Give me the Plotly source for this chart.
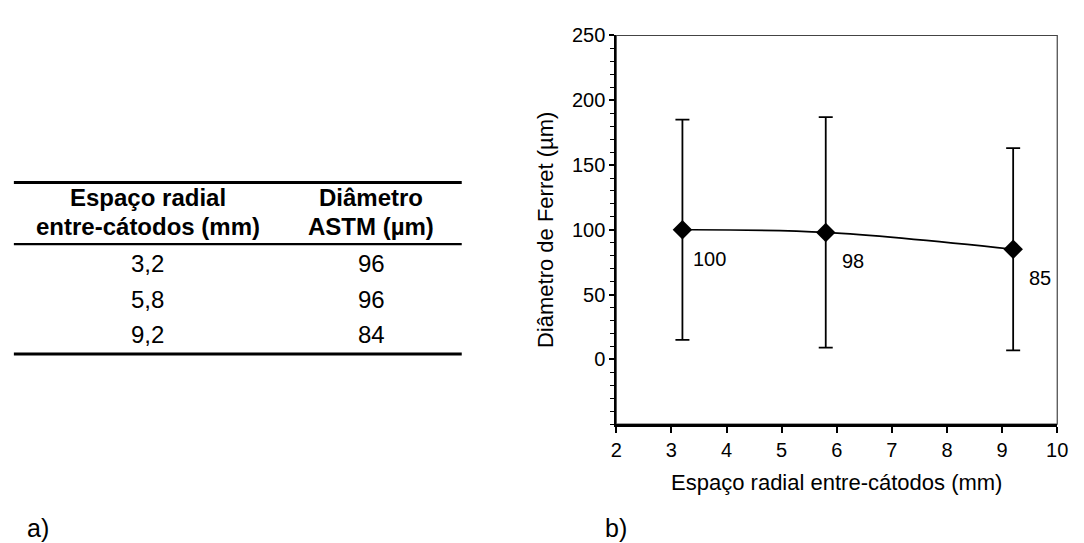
import plotly.graph_objects as go

# Spacing between cathodes (mm) and measured Feret diameter (µm)
espaco = [3.2, 5.8, 9.2]
ferret = [100, 98, 85]
ferret_desvio = [85, 89, 78]

# Table: ASTM grain diameter per spacing
tab_espaco = ["3,2", "5,8", "9,2"]
tab_astm = ["96", "96", "84"]

x_ticks = [2, 3, 4, 5, 6, 7, 8, 9, 10]
y_ticks = [0, 50, 100, 150, 200, 250]

FONT = "Liberation Sans, Arial, sans-serif"
W, H = 1084, 543


def px_x(p):
    return p / W


def px_y(p):
    return 1 - p / H


fig = go.Figure()

fig.add_trace(go.Scatter(
    x=espaco, y=ferret,
    mode="lines+markers",
    line=dict(color="black", width=1.6, shape="spline", smoothing=1.0),
    marker=dict(symbol="diamond", size=15, color="black"),
    error_y=dict(type="data", array=ferret_desvio, visible=True,
                 color="black", thickness=1.8, width=7),
    hoverinfo="skip",
    showlegend=False,
))

# value labels beside each point
for xv, yv in zip(espaco, ferret):
    fig.add_annotation(x=xv, y=yv, text=str(yv), showarrow=False,
                       xshift=27, yshift=-29,
                       font=dict(family=FONT, size=20, color="black"))

# plot frame (thin top/right edges)
fig.add_shape(type="rect", xref="x domain", yref="y domain",
              x0=0, x1=1, y0=0, y1=1,
              line=dict(color="#444444", width=1.2), layer="below")

fig.update_layout(
    width=W, height=H,
    margin=dict(l=0, r=0, t=0, b=0),
    paper_bgcolor="white", plot_bgcolor="white",
    font=dict(family=FONT, size=20, color="black"),
    xaxis=dict(
        domain=[px_x(620), px_x(1068)],
        range=[2, 10], tickvals=x_ticks,
        showgrid=False, zeroline=False,
        showline=True, linecolor="black", linewidth=2.5,
        ticks="outside", ticklen=6, tickwidth=1.5, tickcolor="black",
        tickfont=dict(size=20),
        title=dict(text="Espaço radial entre-cátodos (mm)",
                   font=dict(size=22), standoff=15),
    ),
    yaxis=dict(
        domain=[px_y(421.7), px_y(25)],
        range=[-50, 250], tickvals=y_ticks,
        showgrid=False, zeroline=False,
        showline=True, linecolor="black", linewidth=2,
        ticks="outside", ticklen=5, tickwidth=1.5, tickcolor="black",
        minor=dict(dtick=10, ticks="outside", ticklen=4,
                   tickwidth=1.2, tickcolor="black", showgrid=False),
        tickfont=dict(size=20),
        title=dict(text="Diâmetro de Ferret (µm)",
                   font=dict(size=22), standoff=12),
    ),
    # inside half of the major y ticks
    yaxis2=dict(
        overlaying="y", side="left", anchor="x",
        range=[-50, 250], tickvals=y_ticks,
        showgrid=False, zeroline=False, showline=False,
        ticks="inside", ticklen=5, tickwidth=1.5, tickcolor="black",
        showticklabels=False,
    ),
)

# table on the left
col1_x, col2_x = 144, 371
head_font = dict(family=FONT, size=24, color="black")
body_font = dict(family=FONT, size=24, color="black")

header_lines = [
    (col1_x, 190, "<b>Espaço radial</b>"),
    (col1_x, 220, "<b>entre-cátodos (mm)</b>"),
    (col2_x, 190, "<b>Diâmetro</b>"),
    (col2_x, 220, "<b>ASTM (µm)</b>"),
]
for cx, cy, txt in header_lines:
    fig.add_annotation(xref="paper", yref="paper", x=px_x(cx), y=px_y(cy),
                       text=txt, showarrow=False, xanchor="center",
                       yanchor="middle", font=head_font)

row_y = [258, 294, 330]
for ry, e, a in zip(row_y, tab_espaco, tab_astm):
    fig.add_annotation(xref="paper", yref="paper", x=px_x(col1_x), y=px_y(ry),
                       text=e, showarrow=False, xanchor="center",
                       yanchor="middle", font=body_font)
    fig.add_annotation(xref="paper", yref="paper", x=px_x(col2_x), y=px_y(ry),
                       text=a, showarrow=False, xanchor="center",
                       yanchor="middle", font=body_font)

for ly, lw in [(175, 3), (238, 2.2), (350, 3)]:
    fig.add_shape(type="line", xref="paper", yref="paper",
                  x0=px_x(8), x1=px_x(463), y0=px_y(ly), y1=px_y(ly),
                  line=dict(color="black", width=lw))

# panel labels
for cx, txt in [(33, "a)"), (620, "b)")]:
    fig.add_annotation(xref="paper", yref="paper", x=px_x(cx), y=px_y(528),
                       text=txt, showarrow=False, xanchor="center",
                       yanchor="middle",
                       font=dict(family=FONT, size=25, color="black"))

fig.write_html("out.html")
